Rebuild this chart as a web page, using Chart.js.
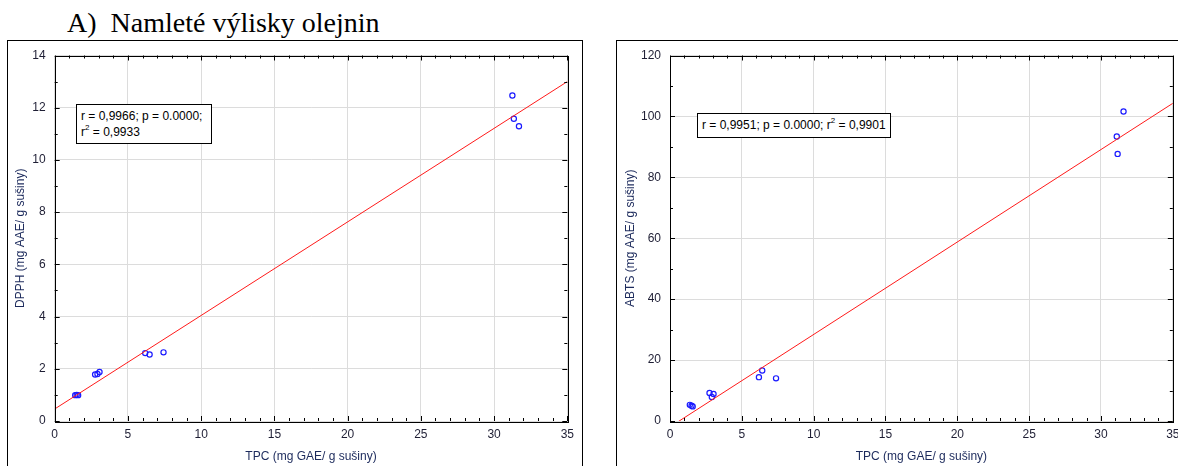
<!DOCTYPE html>
<html>
<head>
<meta charset="utf-8">
<script src="https://cdn.jsdelivr.net/npm/chart.js@4.4.1/dist/chart.umd.min.js"></script>
<style>
  html, body { margin: 0; padding: 0; background: #fff; }
  body { width: 1178px; height: 466px; position: relative; overflow: hidden; }
  #title { position: absolute; left: 67px; top: 7px; font-family: "Liberation Serif", "Times New Roman", serif; font-size: 28px; line-height: 32px; color: #000; white-space: pre; }
  .frame { position: absolute; top: 40px; border: 1px solid #000; }
  #frameL { left: 7px; width: 574px; height: 460px; }
  #frameR { left: 616px; width: 640px; height: 460px; }
  #wrapL { position: absolute; left: 0; top: 0; width: 590px; height: 466px; }
  #wrapR { position: absolute; left: 590px; top: 0; width: 588px; height: 466px; }
  .stat { position: absolute; border: 1px solid #000; background: #fff; font-family: "Liberation Sans", Arial, sans-serif; font-size: 12px; color: #000; line-height: 16px; padding: 2px 4px; white-space: nowrap; box-sizing: border-box; }
  .stat sup { font-size: 8px; line-height: 0; position: relative; top: -1px; }
  #statL { left: 76px; top: 104px; width: 136px; height: 40px; padding-top: 3px; }
  #statR { left: 697px; top: 113px; width: 194px; height: 25px; padding-top: 3px; }
</style>
</head>
<body>
<div id="title">A)  Namleté výlisky olejnin</div>
<div class="frame" id="frameL"></div>
<div class="frame" id="frameR"></div>
<div id="wrapL"><canvas id="chartL" width="590" height="466"></canvas></div>
<div id="wrapR"><canvas id="chartR" width="588" height="466"></canvas></div>
<div class="stat" id="statL">r = 0,9966; p = 0.0000;<br>r<sup>2</sup> = 0,9933</div>
<div class="stat" id="statR">r = 0,9951; p = 0.0000; r<sup>2</sup> = 0,9901</div>
<script>
// ---- data ----
const dpphTPC  = [1.40, 1.50, 1.60, 2.76, 2.92, 3.06, 6.18, 6.48, 7.43, 31.25, 31.35, 31.70];
const dpphVals = [0.99, 1.00, 0.99, 1.78, 1.80, 1.88, 2.60, 2.55, 2.63, 12.47, 11.58, 11.29];
const dpphFitX = [0, 35];
const dpphFitY = [0.46, 13.0];

const abtsTPC  = [1.38, 1.50, 1.58, 2.75, 2.91, 3.03, 6.19, 6.42, 7.38, 31.10, 31.16, 31.57];
const abtsVals = [5.3, 5.0, 4.8, 9.2, 7.9, 8.9, 14.4, 16.6, 14.0, 93.4, 87.7, 101.6];
const abtsFitX = [0, 35];
const abtsFitY = [-1.94, 104.3];

const xTicks = [0, 5, 10, 15, 20, 25, 30, 35];
const dpphTicks = [0, 2, 4, 6, 8, 10, 12, 14];
const abtsTicks = [0, 20, 40, 60, 80, 100, 120];

const xTitle = 'TPC (mg GAE/ g sušiny)';
const dpphTitle = 'DPPH (mg AAE/ g sušiny)';
const abtsTitle = 'ABTS (mg AAE/ g sušiny)';

function pts(xs, ys) { return xs.map((x, i) => ({ x: x, y: ys[i] })); }

const tickFont = { family: '"Liberation Sans", Arial, sans-serif', size: 12 };
const titleFont = { family: '"Liberation Sans", Arial, sans-serif', size: 12 };
const tickColor = '#1e1e34';
const titleColor = '#1c2a5c';

// plugin: box around plot area + inward minor/major tick marks on four sides
const frameTicks = {
  id: 'frameTicks',
  afterDraw(chart, args, opts) {
    const { ctx, chartArea: a, scales } = chart;
    const xs = scales.x, ys = scales.y;
    ctx.save();
    ctx.strokeStyle = '#000';
    ctx.lineWidth = 1;
    ctx.beginPath();
    for (let v = xs.min; v <= xs.max + 1e-9; v += opts.xMinor) {
      const p = Math.round(xs.getPixelForValue(v)) + 0.5;
      const len = (Math.abs(v % opts.xMajor) < 1e-9) ? 5 : 3;
      ctx.moveTo(p, a.bottom); ctx.lineTo(p, a.bottom - len);
      ctx.moveTo(p, a.top); ctx.lineTo(p, a.top + len);
    }
    for (let v = ys.min; v <= ys.max + 1e-9; v += opts.yMinor) {
      const p = Math.round(ys.getPixelForValue(v)) + 0.5;
      const len = (Math.abs(v % opts.yMajor) < 1e-9) ? 5 : 3;
      ctx.moveTo(a.left, p); ctx.lineTo(a.left + len, p);
      ctx.moveTo(a.right, p); ctx.lineTo(a.right - len, p);
    }
    ctx.stroke();
    ctx.strokeRect(Math.round(a.left) + 0.5, Math.round(a.top) + 0.5,
                   Math.round(a.right - a.left), Math.round(a.bottom - a.top));
    ctx.restore();
  }
};

function makeChart(id, xsData, ysData, fitX, fitY, yMax, yStep, yTickList, yTitleText, cfg) {
  return new Chart(document.getElementById(id), {
    type: 'scatter',
    data: {
      datasets: [
        {
          type: 'line',
          data: pts(fitX, fitY),
          borderColor: '#ff1a1a',
          borderWidth: 1,
          pointRadius: 0,
          fill: false,
          tension: 0
        },
        {
          data: pts(xsData, ysData),
          pointStyle: 'circle',
          pointRadius: 2.6,
          pointBorderWidth: 1.2,
          pointBorderColor: '#1a1aff',
          pointBackgroundColor: 'rgba(0,0,0,0)'
        }
      ]
    },
    options: {
      responsive: false,
      animation: false,
      events: [],
      layout: { padding: { left: 0, top: cfg.top, right: cfg.right, bottom: 0 } },
      plugins: {
        legend: { display: false },
        tooltip: { enabled: false },
        frameTicks: { xMinor: 1, xMajor: 5, yMinor: yStep / 2, yMajor: yStep }
      },
      scales: {
        x: {
          type: 'linear',
          min: 0, max: 35,
          afterFit(s) { s.height = cfg.xH; s.paddingLeft = 0; s.paddingRight = 0; },
          afterBuildTicks(s) { s.ticks = xTicks.map(v => ({ value: v })); },
          grid: { color: '#dcdcdc', lineWidth: 1, drawTicks: false },
          border: { display: false },
          ticks: { font: tickFont, color: tickColor, padding: 6, maxRotation: 0 },
          title: { display: true, text: xTitle, font: titleFont, color: titleColor, padding: { top: 0, bottom: 2 } }
        },
        y: {
          type: 'linear',
          min: 0, max: yMax,
          afterFit(s) { s.width = cfg.yW; s.paddingTop = 0; s.paddingBottom = 0; },
          afterBuildTicks(s) { s.ticks = yTickList.map(v => ({ value: v })); },
          grid: { color: '#dcdcdc', lineWidth: 1, drawTicks: false },
          border: { display: false },
          ticks: { font: tickFont, color: tickColor, padding: 9 },
          title: { display: true, text: yTitleText, font: titleFont, color: titleColor, padding: { top: cfg.yTitlePad, bottom: 0 } }
        }
      }
    },
    plugins: [frameTicks]
  });
}

makeChart('chartL', dpphTPC, dpphVals, dpphFitX, dpphFitY, 14, 2, dpphTicks, dpphTitle,
  { top: 55.5, right: 590 - 567.3, xH: 466 - 421, yW: 54.7, yTitlePad: 13 });
makeChart('chartR', abtsTPC, abtsVals, abtsFitX, abtsFitY, 120, 20, abtsTicks, abtsTitle,
  { top: 55.5, right: 1, xH: 466 - 421, yW: 80, yTitlePad: 33 });
</script>
</body>
</html>
